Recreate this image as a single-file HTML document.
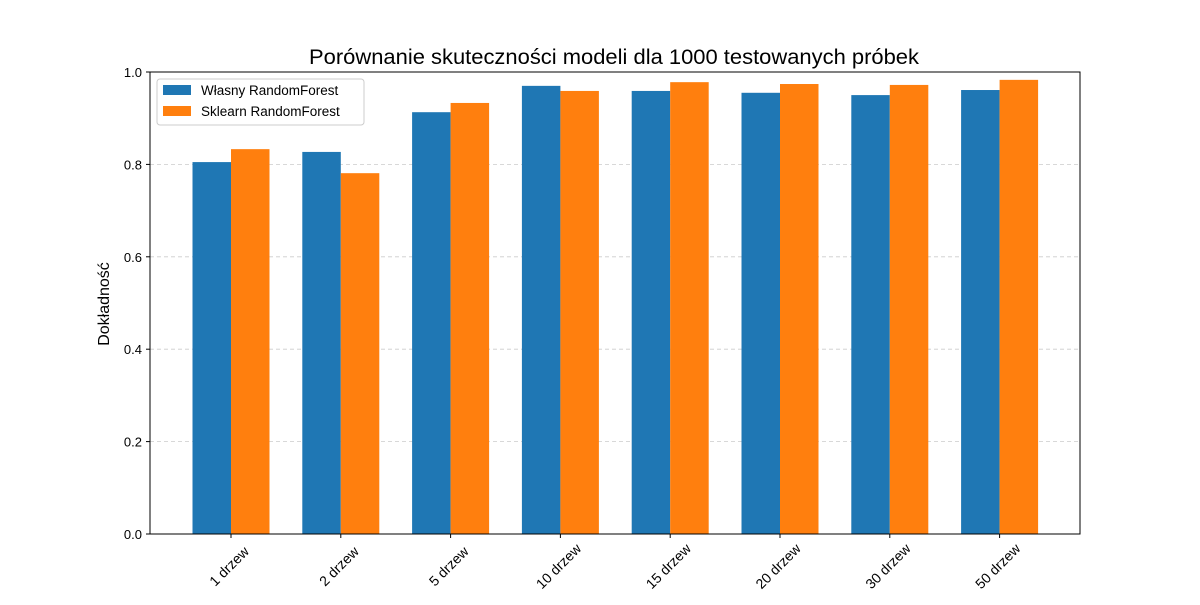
<!DOCTYPE html>
<html><head><meta charset="utf-8"><style>
body{margin:0;background:#fff;}
svg{font-family:"Liberation Sans","DejaVu Sans",sans-serif;}
</style></head><body>
<svg id="chart" width="1200" height="600">
<text x="614" y="64" text-anchor="middle" font-size="21" textLength="610" lengthAdjust="spacingAndGlyphs">Porównanie skuteczności modeli dla 1000 testowanych próbek</text>
<g id="grid"></g><g id="bars"></g><g id="axes"></g>
<text transform="translate(109,304) rotate(-90)" text-anchor="middle" font-size="16">Dokładność</text>
<g>
<rect x="157" y="79" width="207" height="46" fill="#fff" stroke="#ccc" rx="3"/>
<rect x="163" y="85" width="28" height="10" fill="#1f77b4"/>
<text x="201" y="95" font-size="13.5">Własny RandomForest</text>
<rect x="163" y="106" width="28" height="10" fill="#ff7f0e"/>
<text x="201" y="116" font-size="13.5">Sklearn RandomForest</text>
</g>
</svg>
<script>
const categories=["1 drzew","2 drzew","5 drzew","10 drzew","15 drzew","20 drzew","30 drzew","50 drzew"];
const ownValues=[0.805,0.827,0.913,0.970,0.959,0.955,0.950,0.961];
const sklearnValues=[0.833,0.781,0.933,0.959,0.978,0.974,0.972,0.983];
const yTicks=[0,0.2,0.4,0.6,0.8,1.0];
const yTickLabels=["0.0","0.2","0.4","0.6","0.8","1.0"];
const L=150,R=1080,T=72,B=534;
const ns="http://www.w3.org/2000/svg";
const y=v=>B-(B-T)*v;
const x=i=>L+81+i*109.8;
const bw=38.5;
function mk(tag,attrs,parent){const e=document.createElementNS(ns,tag);for(const k in attrs)e.setAttribute(k,attrs[k]);parent.appendChild(e);return e;}
const grid=document.getElementById('grid'),bars=document.getElementById('bars'),axes=document.getElementById('axes');
yTicks.forEach((t,i)=>{
  if(t>0&&t<1){const g=mk('line',{x1:L,x2:R,y1:y(t),y2:y(t),stroke:'#ccc','stroke-dasharray':'4,3','stroke-width':0.8},grid);
  
  }
  mk('line',{x1:L-4,x2:L,y1:y(t),y2:y(t),stroke:'#000'},axes);
  const tx=mk('text',{x:L-8,y:y(t)+5,'text-anchor':'end','font-size':13},axes);
  tx.textContent=yTickLabels[i];
  
  
});
categories.forEach((c,i)=>{
  const cx=x(i);
  const b1=mk('rect',{x:cx-bw,y:y(ownValues[i]),width:bw,height:B-y(ownValues[i]),fill:'#1f77b4'},bars);
  
  
  const b2=mk('rect',{x:cx,y:y(sklearnValues[i]),width:bw,height:B-y(sklearnValues[i]),fill:'#ff7f0e'},bars);
  
  
  mk('line',{x1:cx,x2:cx,y1:B,y2:B+4,stroke:'#000'},axes);
  const tx=mk('text',{transform:`translate(${cx-1},${B+33}) rotate(-45)`,'text-anchor':'middle','font-size':14,'dominant-baseline':'middle'},axes);
  tx.textContent=c;
  
  
});
mk('rect',{x:L,y:T,width:R-L,height:B-T,fill:'none',stroke:'#000','stroke-width':1},axes);
</script>
</body></html>
